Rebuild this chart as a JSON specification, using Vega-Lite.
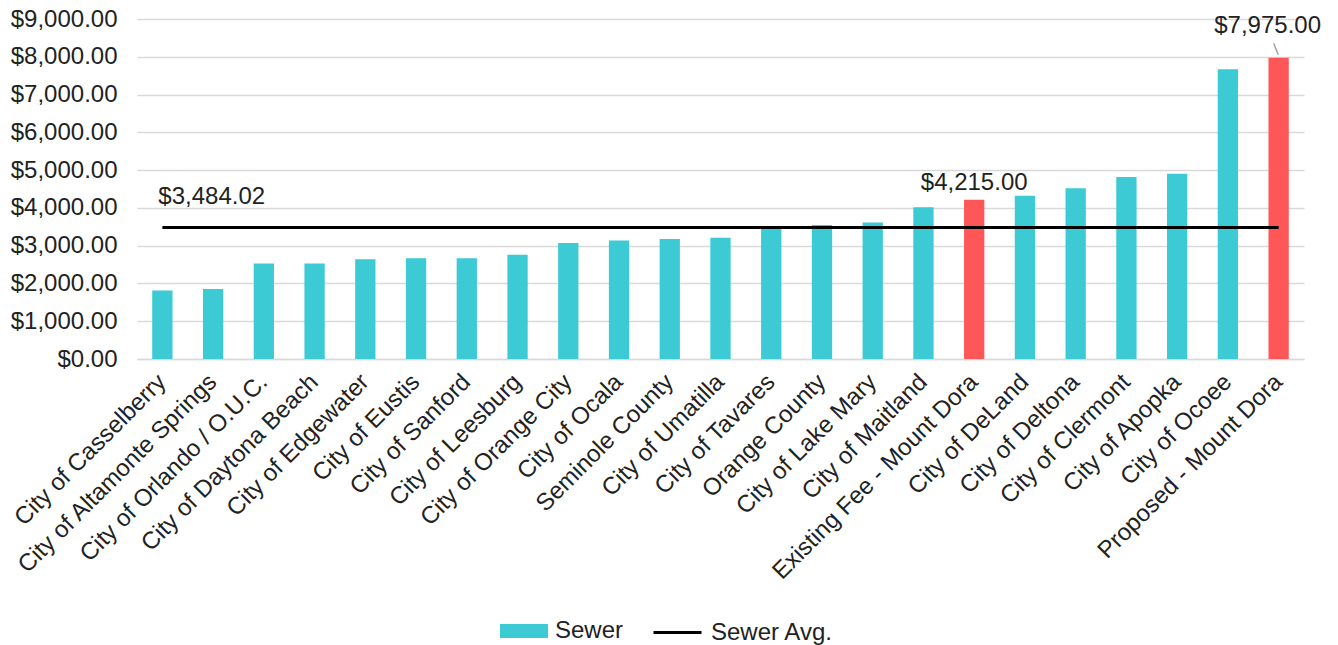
{
  "$schema": "https://vega.github.io/schema/vega-lite/v6.json",
  "width": 1167,
  "height": 340,
  "autosize": {"type": "none"},
  "padding": {"left": 137, "top": 19, "right": 34, "bottom": 286},
  "background": "white",
  "config": {
    "view": {"stroke": null},
    "font": "Liberation Sans",
    "text": {"font": "Liberation Sans"},
    "axis": {"labelOverlap": false, "labelSeparation": 0}
  },
  "data": {
    "values": [
      {"name": "City of Casselberry", "sewer": 1810, "sewer_avg": 3484.02},
      {"name": "City of Altamonte Springs", "sewer": 1850, "sewer_avg": 3484.02},
      {"name": "City of Orlando / O.U.C.", "sewer": 2530, "sewer_avg": 3484.02},
      {"name": "City of Daytona Beach", "sewer": 2530, "sewer_avg": 3484.02},
      {"name": "City of Edgewater", "sewer": 2640, "sewer_avg": 3484.02},
      {"name": "City of Eustis", "sewer": 2670, "sewer_avg": 3484.02},
      {"name": "City of Sanford", "sewer": 2665, "sewer_avg": 3484.02},
      {"name": "City of Leesburg", "sewer": 2760, "sewer_avg": 3484.02},
      {"name": "City of Orange City", "sewer": 3070, "sewer_avg": 3484.02},
      {"name": "City of Ocala", "sewer": 3140, "sewer_avg": 3484.02},
      {"name": "Seminole County", "sewer": 3175, "sewer_avg": 3484.02},
      {"name": "City of Umatilla", "sewer": 3210, "sewer_avg": 3484.02},
      {"name": "City of Tavares", "sewer": 3460, "sewer_avg": 3484.02},
      {"name": "Orange County", "sewer": 3550, "sewer_avg": 3484.02},
      {"name": "City of Lake Mary", "sewer": 3615, "sewer_avg": 3484.02},
      {"name": "City of Maitland", "sewer": 4015, "sewer_avg": 3484.02},
      {"name": "Existing Fee - Mount Dora", "sewer": 4215, "sewer_avg": 3484.02},
      {"name": "City of DeLand", "sewer": 4320, "sewer_avg": 3484.02},
      {"name": "City of Deltona", "sewer": 4520, "sewer_avg": 3484.02},
      {"name": "City of Clermont", "sewer": 4815, "sewer_avg": 3484.02},
      {"name": "City of Apopka", "sewer": 4905, "sewer_avg": 3484.02},
      {"name": "City of Ocoee", "sewer": 7670, "sewer_avg": 3484.02},
      {"name": "Proposed - Mount Dora", "sewer": 7975, "sewer_avg": 3484.02}
    ]
  },
  "encoding": {
    "x": {
      "field": "name", "type": "nominal", "sort": null,
      "scale": {"paddingInner": 0.6, "paddingOuter": 0.3},
      "axis": {
        "title": null, "labelAngle": -45, "labelAlign": "right", "labelBaseline": "middle",
        "labelFontSize": 24, "labelColor": "#222222", "labelFont": "Liberation Sans",
        "ticks": false, "tickSize": 0, "labelPadding": 19,
        "domainColor": "#D9D9D9", "domainWidth": 1.5, "grid": false,
        "labelOverlap": false, "labelLimit": 0
      }
    }
  },
  "layer": [
    {
      "mark": {"type": "bar"},
      "encoding": {
        "y": {
          "field": "sewer", "type": "quantitative",
          "scale": {"domain": [0, 9000], "nice": false},
          "axis": {
            "title": null, "format": "$,.2f", "tickCount": 10,
            "labelFontSize": 24, "labelColor": "#222222", "labelFont": "Liberation Sans",
            "labelPadding": 20, "ticks": false, "tickSize": 0, "domain": false, "labelOverlap": false,
            "gridColor": "#D9D9D9", "gridWidth": 1.5
          }
        },
        "fill": {
          "condition": {"test": "test(/Mount Dora/, datum.name)", "value": "#FF5757"},
          "datum": "Sewer", "type": "nominal",
          "scale": {"range": ["#3CCAD4"]},
          "legend": {
            "orient": "none", "legendX": 363, "legendY": 588, "title": null,
            "symbolType": "M-1,-0.29H1V0.29H-1Z", "symbolSize": 2304, "symbolStrokeWidth": 0,
            "labelFontSize": 24, "labelColor": "#222222", "labelFont": "Liberation Sans", "labelOffset": 7
          }
        }
      }
    },
    {
      "mark": {"type": "line", "strokeWidth": 3},
      "encoding": {
        "y": {"field": "sewer_avg", "type": "quantitative"},
        "stroke": {
          "datum": "Sewer Avg.", "type": "nominal",
          "scale": {"range": ["#000000"]},
          "legend": {
            "orient": "none", "legendX": 515, "legendY": 588, "title": null,
            "symbolType": "stroke", "symbolSize": 2304, "symbolStrokeWidth": 3,
            "labelFontSize": 24, "labelColor": "#222222", "labelFont": "Liberation Sans", "labelOffset": 8
          }
        }
      }
    },
    {
      "mark": {"type": "text", "align": "left", "baseline": "middle", "dx": -4, "dy": -30, "fontSize": 24, "color": "#222222"},
      "encoding": {
        "y": {"field": "sewer_avg", "type": "quantitative"},
        "text": {"condition": {"test": "datum.name == 'City of Casselberry'", "field": "sewer_avg", "format": "$,.2f"}, "value": ""}
      }
    },
    {
      "mark": {"type": "text", "align": "center", "baseline": "middle", "dy": -17, "fontSize": 24, "color": "#222222"},
      "encoding": {
        "y": {"field": "sewer", "type": "quantitative"},
        "text": {"condition": {"test": "datum.name == 'Existing Fee - Mount Dora'", "field": "sewer", "format": "$,.2f"}, "value": ""}
      }
    },
    {
      "mark": {"type": "text", "align": "center", "baseline": "middle", "dx": -11, "dy": -32, "fontSize": 24, "color": "#222222"},
      "encoding": {
        "y": {"field": "sewer", "type": "quantitative"},
        "text": {"condition": {"test": "datum.name == 'Proposed - Mount Dora'", "field": "sewer", "format": "$,.2f"}, "value": ""}
      }
    },
    {
      "mark": {"type": "rule", "color": "#A6A6A6", "strokeWidth": 1.5},
      "encoding": {
        "x": {"field": "name", "type": "nominal", "sort": null, "bandPosition": 0.26},
        "x2": {"field": "name", "bandPosition": 0.48},
        "y": {"datum": 8360, "type": "quantitative"},
        "y2": {"datum": 8050},
        "opacity": {"condition": {"test": "datum.name == 'Proposed - Mount Dora'", "value": 1}, "value": 0}
      }
    }
  ]
}
